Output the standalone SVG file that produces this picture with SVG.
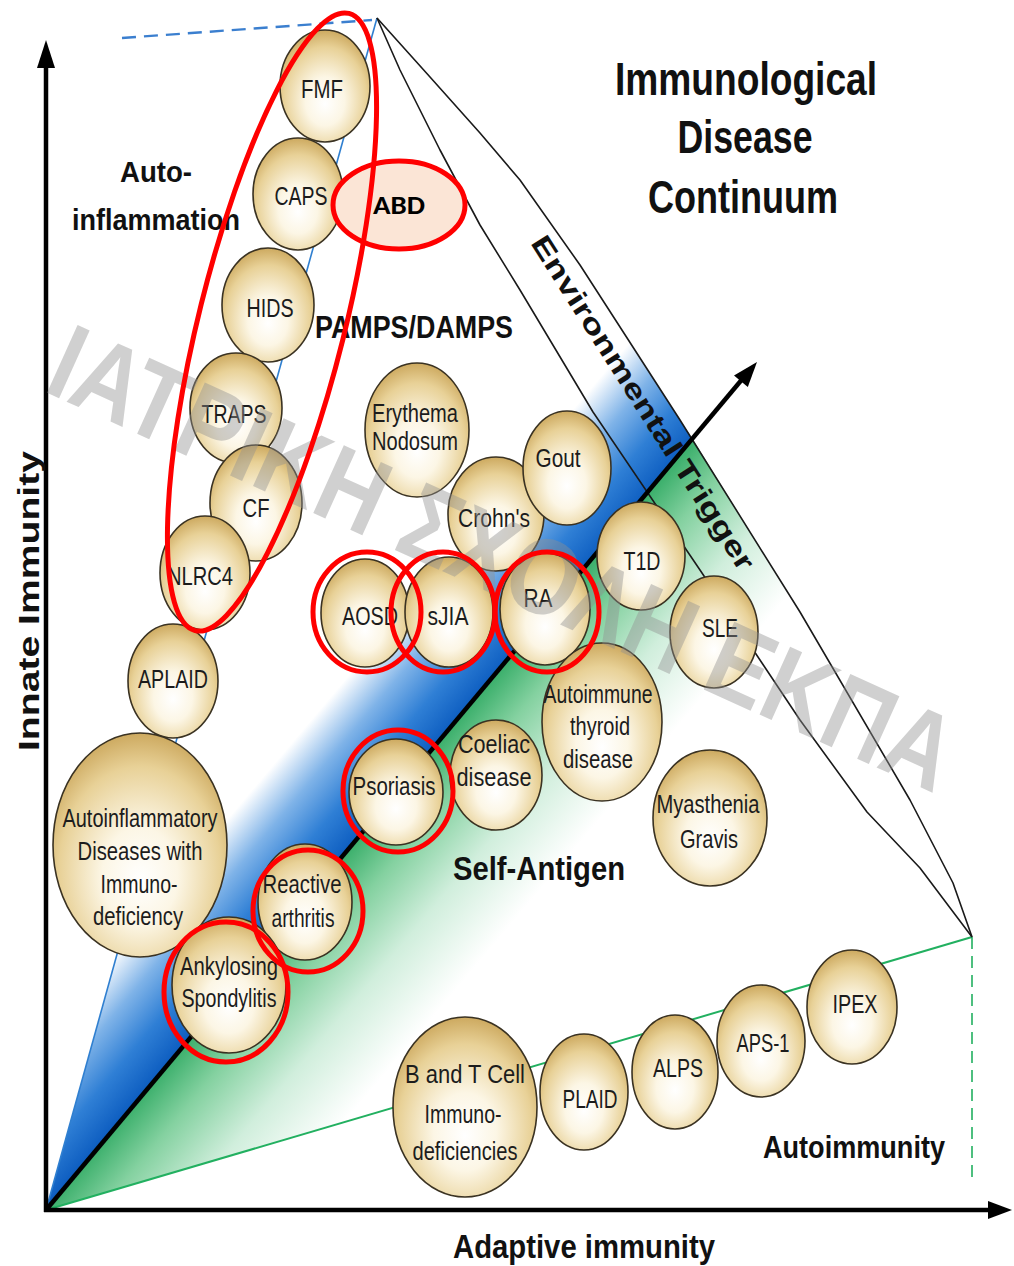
<svg xmlns="http://www.w3.org/2000/svg" width="1014" height="1266" viewBox="0 0 1014 1266">
<defs>
  <radialGradient id="tan" cx="0.5" cy="0.6" r="0.62" fx="0.5" fy="0.66">
    <stop offset="0" stop-color="#ffffff"/>
    <stop offset="0.35" stop-color="#fcf6e5"/>
    <stop offset="0.75" stop-color="#e8d197"/>
    <stop offset="1" stop-color="#c9a458"/>
  </radialGradient>
  <linearGradient id="blueFill" gradientUnits="userSpaceOnUse" x1="400" y1="792" x2="285" y2="695">
    <stop offset="0" stop-color="#0b5bbf"/>
    <stop offset="0.25" stop-color="#2f7fd5"/>
    <stop offset="0.5" stop-color="#7fb3e8"/>
    <stop offset="0.76" stop-color="#ffffff"/>
  </linearGradient>
  <linearGradient id="greenFill" gradientUnits="userSpaceOnUse" x1="400" y1="792" x2="553" y2="921">
    <stop offset="0" stop-color="#3fb16e"/>
    <stop offset="0.2" stop-color="#84d1a0"/>
    <stop offset="0.5" stop-color="#d0eedc"/>
    <stop offset="0.85" stop-color="#ffffff"/>
  </linearGradient>
  <style>
    .c { fill: url(#tan); stroke: #3a3222; stroke-width: 1.6; }
    .lbl { font-family: "Liberation Sans", Arial, sans-serif; font-size: 25px; fill: #1c1c1c; text-anchor: middle; }
    .big { font-family: "Liberation Sans", Arial, sans-serif; font-weight: bold; fill: #111; text-anchor: middle; }
    .red { fill: none; stroke: #ff0000; stroke-width: 5; }
    .axis { stroke: #000; stroke-width: 4.5; fill: none; }
    .edge { stroke: #1a1a1a; stroke-width: 1.6; fill: none; stroke-linejoin: round; }
  </style>
</defs>
<rect width="1014" height="1266" fill="#ffffff"/>

<g id="regions">
  <polygon fill="url(#blueFill)" points="46,1210 377,18 430,77 480,133 520,180 580,265 680,420 692,438"/>
  <polygon fill="url(#greenFill)" points="46,1210 692,438 800,612 910,800 953,883 972,937"/>
</g>

<g id="connectors">
  <line x1="46" y1="1210" x2="377" y2="18" stroke="#2f7fd0" stroke-width="1.6"/>
  <line x1="122" y1="38" x2="372" y2="20" stroke="#3b7fcf" stroke-width="2.4" stroke-dasharray="14,8"/>
  <line x1="46" y1="1210" x2="972" y2="937" stroke="#22b060" stroke-width="2"/>
  <line x1="972" y1="937" x2="972" y2="1180" stroke="#22b060" stroke-width="1.6" stroke-dasharray="12,7"/>
  <polyline class="edge" points="377,18 400,70 440,150 480,225 520,290 593,412 700,570 800,720 867,812 920,868 972,937"/>
  <polyline class="edge" points="377,18 430,77 480,133 520,180 580,265 680,420 800,612 910,800 953,883 972,937"/>
  <line x1="46" y1="1210" x2="744" y2="377" stroke="#000" stroke-width="4.5"/>
  <polygon fill="#000" points="757,362 747.8,387 734,375.4"/>
  <line class="axis" x1="46" y1="1212" x2="46" y2="62"/>
  <polygon fill="#000" points="46,40 37,68 55,68"/>
  <line class="axis" x1="44" y1="1210" x2="992" y2="1210"/>
  <polygon fill="#000" points="1012,1210 988,1201 988,1219"/>
</g>

<g id="node-fmf"><ellipse class="c" cx="325" cy="86" rx="45" ry="56"/><text class="lbl" x="322" y="98" font-size="31" textLength="42" lengthAdjust="spacingAndGlyphs">FMF</text></g>
<g id="node-caps"><ellipse class="c" cx="298" cy="194" rx="45" ry="56"/><text class="lbl" x="301" y="205" textLength="53" lengthAdjust="spacingAndGlyphs">CAPS</text></g>
<g id="node-hids"><ellipse class="c" cx="268" cy="305" rx="46" ry="57"/><text class="lbl" x="270" y="317" textLength="47" lengthAdjust="spacingAndGlyphs">HIDS</text></g>
<g id="node-traps"><ellipse class="c" cx="236" cy="408" rx="46" ry="55"/><text class="lbl" x="234" y="423" textLength="65" lengthAdjust="spacingAndGlyphs">TRAPS</text></g>
<g id="node-cf"><ellipse class="c" cx="256" cy="503" rx="46" ry="58"/><text class="lbl" x="256" y="517" textLength="27" lengthAdjust="spacingAndGlyphs">CF</text></g>
<g id="node-nlrc4"><ellipse class="c" cx="205" cy="573" rx="45" ry="57"/><text class="lbl" x="200" y="585" textLength="66" lengthAdjust="spacingAndGlyphs">NLRC4</text></g>
<g id="node-aplaid"><ellipse class="c" cx="173" cy="681" rx="45" ry="57"/><text class="lbl" x="173" y="688" textLength="70" lengthAdjust="spacingAndGlyphs">APLAID</text></g>
<g id="node-aidi"><ellipse class="c" cx="140" cy="845" rx="87" ry="112"/>
  <text class="lbl" font-size="24" x="140" y="827" textLength="155" lengthAdjust="spacingAndGlyphs">Autoinflammatory</text>
  <text class="lbl" font-size="24" x="140" y="860" textLength="125" lengthAdjust="spacingAndGlyphs">Diseases with</text>
  <text class="lbl" font-size="24" x="139" y="893" textLength="77" lengthAdjust="spacingAndGlyphs">Immuno-</text>
  <text class="lbl" font-size="24" x="138" y="925" textLength="90" lengthAdjust="spacingAndGlyphs">deficiency</text></g>
<g id="node-reactive"><ellipse class="c" cx="305" cy="902" rx="47" ry="58"/>
  <text class="lbl" font-size="24" x="302" y="893" textLength="79" lengthAdjust="spacingAndGlyphs">Reactive</text>
  <text class="lbl" font-size="24" x="303" y="927" textLength="63" lengthAdjust="spacingAndGlyphs">arthritis</text></g>
<g id="node-as"><ellipse class="c" cx="229" cy="985" rx="57" ry="68"/>
  <text class="lbl" font-size="24" x="229" y="975" textLength="98" lengthAdjust="spacingAndGlyphs">Ankylosing</text>
  <text class="lbl" font-size="24" x="229" y="1007" textLength="95" lengthAdjust="spacingAndGlyphs">Spondylitis</text></g>
<g id="node-psoriasis"><ellipse class="c" cx="396" cy="792" rx="47" ry="53"/><text class="lbl" font-size="24" x="394" y="795" textLength="83" lengthAdjust="spacingAndGlyphs">Psoriasis</text></g>
<g id="node-coeliac"><ellipse class="c" cx="496" cy="775" rx="46" ry="55"/>
  <text class="lbl" font-size="24" x="494" y="753" textLength="72" lengthAdjust="spacingAndGlyphs">Coeliac</text>
  <text class="lbl" font-size="24" x="494" y="786" textLength="75" lengthAdjust="spacingAndGlyphs">disease</text></g>
<g id="node-aosd"><ellipse class="c" cx="365" cy="613" rx="44" ry="54"/><text class="lbl" x="370" y="625" textLength="56" lengthAdjust="spacingAndGlyphs">AOSD</text></g>
<g id="node-sjia"><ellipse class="c" cx="449" cy="612" rx="44" ry="55"/><text class="lbl" x="448" y="625" textLength="41" lengthAdjust="spacingAndGlyphs">sJIA</text></g>
<g id="node-ra"><ellipse class="c" cx="545" cy="609" rx="45" ry="56"/><text class="lbl" x="538" y="607" textLength="29" lengthAdjust="spacingAndGlyphs">RA</text></g>
<g id="node-erythema"><ellipse class="c" cx="417" cy="430" rx="52" ry="67"/>
  <text class="lbl" font-size="24" x="415" y="422" textLength="86" lengthAdjust="spacingAndGlyphs">Erythema</text>
  <text class="lbl" font-size="24" x="415" y="450" textLength="86" lengthAdjust="spacingAndGlyphs">Nodosum</text></g>
<g id="node-crohns"><ellipse class="c" cx="496" cy="514" rx="48" ry="57"/><text class="lbl" x="494" y="527" textLength="72" lengthAdjust="spacingAndGlyphs">Crohn's</text></g>
<g id="node-gout"><ellipse class="c" cx="567" cy="468" rx="44" ry="57"/><text class="lbl" x="558" y="467" textLength="45" lengthAdjust="spacingAndGlyphs">Gout</text></g>
<g id="node-t1d"><ellipse class="c" cx="641" cy="556" rx="44" ry="54"/><text class="lbl" x="642" y="570" textLength="37" lengthAdjust="spacingAndGlyphs">T1D</text></g>
<g id="node-sle"><ellipse class="c" cx="714" cy="632" rx="44" ry="56"/><text class="lbl" x="720" y="637" textLength="36" lengthAdjust="spacingAndGlyphs">SLE</text></g>
<g id="node-thyroid"><ellipse class="c" cx="602" cy="722" rx="60" ry="79"/>
  <text class="lbl" font-size="24" x="598" y="703" textLength="109" lengthAdjust="spacingAndGlyphs">Autoimmune</text>
  <text class="lbl" font-size="24" x="600" y="735" textLength="60" lengthAdjust="spacingAndGlyphs">thyroid</text>
  <text class="lbl" font-size="24" x="598" y="768" textLength="70" lengthAdjust="spacingAndGlyphs">disease</text></g>
<g id="node-mg"><ellipse class="c" cx="710" cy="818" rx="57" ry="68"/>
  <text class="lbl" font-size="24" x="708" y="813" textLength="103" lengthAdjust="spacingAndGlyphs">Myasthenia</text>
  <text class="lbl" font-size="24" x="709" y="848" textLength="58" lengthAdjust="spacingAndGlyphs">Gravis</text></g>
<g id="node-btcell"><ellipse class="c" cx="465" cy="1107" rx="72" ry="90"/>
  <text class="lbl" font-size="24" x="465" y="1083" textLength="120" lengthAdjust="spacingAndGlyphs">B and T Cell</text>
  <text class="lbl" font-size="24" x="463" y="1123" textLength="77" lengthAdjust="spacingAndGlyphs">Immuno-</text>
  <text class="lbl" font-size="24" x="465" y="1160" textLength="105" lengthAdjust="spacingAndGlyphs">deficiencies</text></g>
<g id="node-plaid"><ellipse class="c" cx="584" cy="1092" rx="44" ry="58"/><text class="lbl" x="590" y="1108" textLength="55" lengthAdjust="spacingAndGlyphs">PLAID</text></g>
<g id="node-alps"><ellipse class="c" cx="675" cy="1072" rx="43" ry="57"/><text class="lbl" x="678" y="1077" textLength="50" lengthAdjust="spacingAndGlyphs">ALPS</text></g>
<g id="node-aps1"><ellipse class="c" cx="761" cy="1041" rx="44" ry="56"/><text class="lbl" x="763" y="1052" textLength="53" lengthAdjust="spacingAndGlyphs">APS-1</text></g>
<g id="node-ipex"><ellipse class="c" cx="852" cy="1007" rx="45" ry="57"/><text class="lbl" x="855" y="1013" textLength="45" lengthAdjust="spacingAndGlyphs">IPEX</text></g>

<g id="labels">
  <text class="big" x="156" y="182" font-size="30" textLength="72" lengthAdjust="spacingAndGlyphs">Auto-</text>
  <text class="big" x="156" y="230" font-size="30" textLength="168" lengthAdjust="spacingAndGlyphs">inflammation</text>
  <text class="big" x="414" y="338" font-size="31" textLength="198" lengthAdjust="spacingAndGlyphs">PAMPS/DAMPS</text>
  <text class="big" x="746" y="95" font-size="46" textLength="262" lengthAdjust="spacingAndGlyphs">Immunological</text>
  <text class="big" x="745" y="153" font-size="46" textLength="135" lengthAdjust="spacingAndGlyphs">Disease</text>
  <text class="big" x="743" y="213" font-size="46" textLength="190" lengthAdjust="spacingAndGlyphs">Continuum</text>
  <text class="big" x="635" y="408" font-size="28" textLength="391" lengthAdjust="spacingAndGlyphs" transform="rotate(57.5 635 408)">Environmental Trigger</text>
  <text class="big" x="539" y="880" font-size="34" textLength="172" lengthAdjust="spacingAndGlyphs">Self-Antigen</text>
  <text class="big" x="854" y="1158" font-size="31" textLength="182" lengthAdjust="spacingAndGlyphs">Autoimmunity</text>
  <text class="big" x="584" y="1258" font-size="33" textLength="262" lengthAdjust="spacingAndGlyphs">Adaptive immunity</text>
  <text class="big" x="39" y="601" font-size="30" textLength="300" lengthAdjust="spacingAndGlyphs" transform="rotate(-90 39 601)">Innate Immunity</text>
</g>

<g id="watermark" opacity="0.42">
  <text x="488" y="592" font-family="'Liberation Sans', Arial, sans-serif" font-weight="bold" font-size="108" fill="#909090" text-anchor="middle" textLength="980" lengthAdjust="spacingAndGlyphs" transform="rotate(24.3 488 592)">ΙΑΤΡΙΚΗ ΣΧΟΛΗ ΕΚΠΑ</text>
</g>

<g id="highlights">
  <ellipse class="red" cx="367" cy="612" rx="54" ry="60"/>
  <ellipse class="red" cx="443" cy="612" rx="52" ry="60"/>
  <ellipse class="red" cx="547" cy="612" rx="52" ry="60"/>
  <ellipse class="red" cx="398" cy="791" rx="55" ry="61"/>
  <ellipse class="red" cx="308" cy="911" rx="55" ry="61"/>
  <ellipse class="red" cx="226" cy="992" rx="62" ry="70"/>
</g>
<g id="node-abd">
  <ellipse cx="399" cy="205" rx="66" ry="44" fill="#fbe5d6" stroke="#ff0000" stroke-width="5"/>
</g>
<g id="autoinflammation-group">
  <ellipse class="red" cx="272" cy="322" rx="73" ry="318" transform="rotate(14 272 322)"/>
</g>
<text x="399" y="214" font-family="Carlito, 'Liberation Sans', Arial, sans-serif" font-weight="bold" font-size="27" fill="#000" text-anchor="middle" textLength="52" lengthAdjust="spacingAndGlyphs">ABD</text>
</svg>
